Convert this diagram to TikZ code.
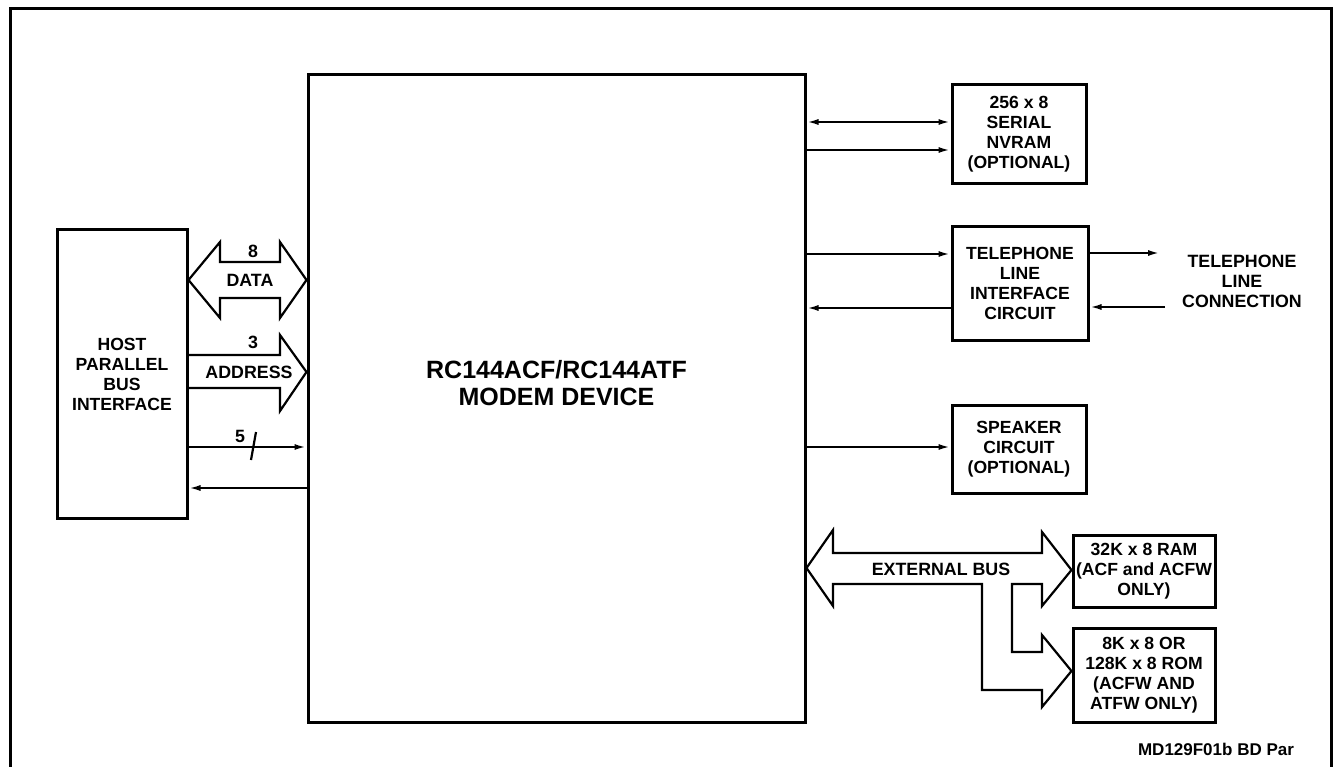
\documentclass[tikz,border=0pt]{standalone}
\usepackage{fontspec}
\setmainfont{Liberation Sans}
\usetikzlibrary{arrows.meta}
\begin{document}
\begin{tikzpicture}[x=1pt,y=-1pt,
  box/.style={draw,line width=3pt,rectangle,inner sep=0pt,align=center,
    font=\fontsize{17.6}{20}\selectfont\bfseries},
  lbl/.style={inner sep=0pt,align=center,font=\fontsize{17.8}{20}\selectfont\bfseries},
  conn/.style={line width=2.2pt},
  tip/.style={-{Latex[length=12pt,width=6pt]}},
  bus/.style={line width=2.2pt,line join=miter}]
\useasboundingbox (0,0) rectangle (1338,767);
% frame
\draw[line width=3pt] (10,767) -- (10,9) -- (1331,9) -- (1331,767);
% boxes
\node[box,minimum width=130pt,minimum height=288pt] (host) at (122,374) {HOST\\PARALLEL\\BUS\\INTERFACE};
\node[box,minimum width=497pt,minimum height=647pt] (modem) at (556.5,398.5) {};
\node[lbl,font=\fontsize{25}{27}\selectfont\bfseries] (mlabel) at (556.5,383) {RC144ACF/RC144ATF\\MODEM DEVICE};
\node[box,minimum width=134pt,minimum height=99pt] (nvram) at (1019,134.5) {256 x 8\\SERIAL\\NVRAM\\(OPTIONAL)};
\node[box,minimum width=136pt,minimum height=113pt] (tel) at (1020,283.5) {TELEPHONE\\LINE\\INTERFACE\\CIRCUIT};
\node[box,minimum width=134pt,minimum height=88pt] (spk) at (1019,449) {SPEAKER\\CIRCUIT\\(OPTIONAL)};
\node[box,minimum width=142pt,minimum height=72pt] (ram) at (1144,571) {32K x 8 RAM\\(ACF and ACFW\\ONLY)};
\node[box,minimum width=142pt,minimum height=94pt] (rom) at (1144,675) {8K x 8 OR\\128K x 8 ROM\\(ACFW AND\\ATFW ONLY)};
\node[lbl] (telcon) at (1242,281) {TELEPHONE\\LINE\\CONNECTION};
\node[lbl,font=\fontsize{17}{20}\selectfont\bfseries] (fig) at (1216,749) {MD129F01b BD Par};
% host bus arrows
\draw[bus] (host.east |- 0,280) -- (220,242) -- (220,262) -- (280,262) -- (280,242)
  -- (modem.west |- 0,280) -- (280,318) -- (280,298) -- (220,298) -- (220,318) -- cycle;
\node[lbl] (n8) at (253,251) {8};
\node[lbl] (ndata) at (250,280) {DATA};
\draw[bus] (host.east |- 0,355) -- (280,355) -- (280,335) -- (modem.west |- 0,372)
  -- (280,411) -- (280,388) -- (host.east |- 0,388);
\node[lbl] (n3) at (253,342) {3};
\node[lbl] (naddr) at (249,372) {ADDRESS};
\draw[conn,tip] (host.east |- 0,447) -- (modem.west |- 0,447);
\draw[line width=2.2pt] (251,460) -- (256,432);
\node[lbl] (n5) at (240,436) {5};
\draw[conn,tip] (modem.west |- 0,488) -- (host.east |- 0,488);
% right side connectors
\draw[conn,{Latex[length=12pt,width=6pt]}-{Latex[length=12pt,width=6pt]}] (modem.east |- 0,122) -- (nvram.west |- 0,122);
\draw[conn,tip] (modem.east |- 0,150) -- (nvram.west |- 0,150);
\draw[conn,tip] (modem.east |- 0,254) -- (tel.west |- 0,254);
\draw[conn,tip] (tel.west |- 0,308) -- (modem.east |- 0,308);
\coordinate (tc1) at (1160,253);
\coordinate (tc2) at (1165,307);
\draw[conn,tip] (tel.east |- tc1) -- (tc1);
\draw[conn,tip] (tc2) -- (tel.east |- tc2);
\draw[conn,tip] (modem.east |- 0,447) -- (spk.west |- 0,447);
% external bus
\draw[bus] (modem.east |- 0,568) -- (833,530) -- (833,553) -- (1042,553) -- (1042,532)
  -- (ram.west |- 0,570) -- (1042,606) -- (1042,584) -- (1012,584) -- (1012,652)
  -- (1042,652) -- (1042,635) -- (rom.west |- 0,671) -- (1042,707) -- (1042,690)
  -- (982,690) -- (982,584) -- (833,584) -- (833,606) -- cycle;
\node[lbl] (nbus) at (941,569) {EXTERNAL BUS};
\end{tikzpicture}
\end{document}
